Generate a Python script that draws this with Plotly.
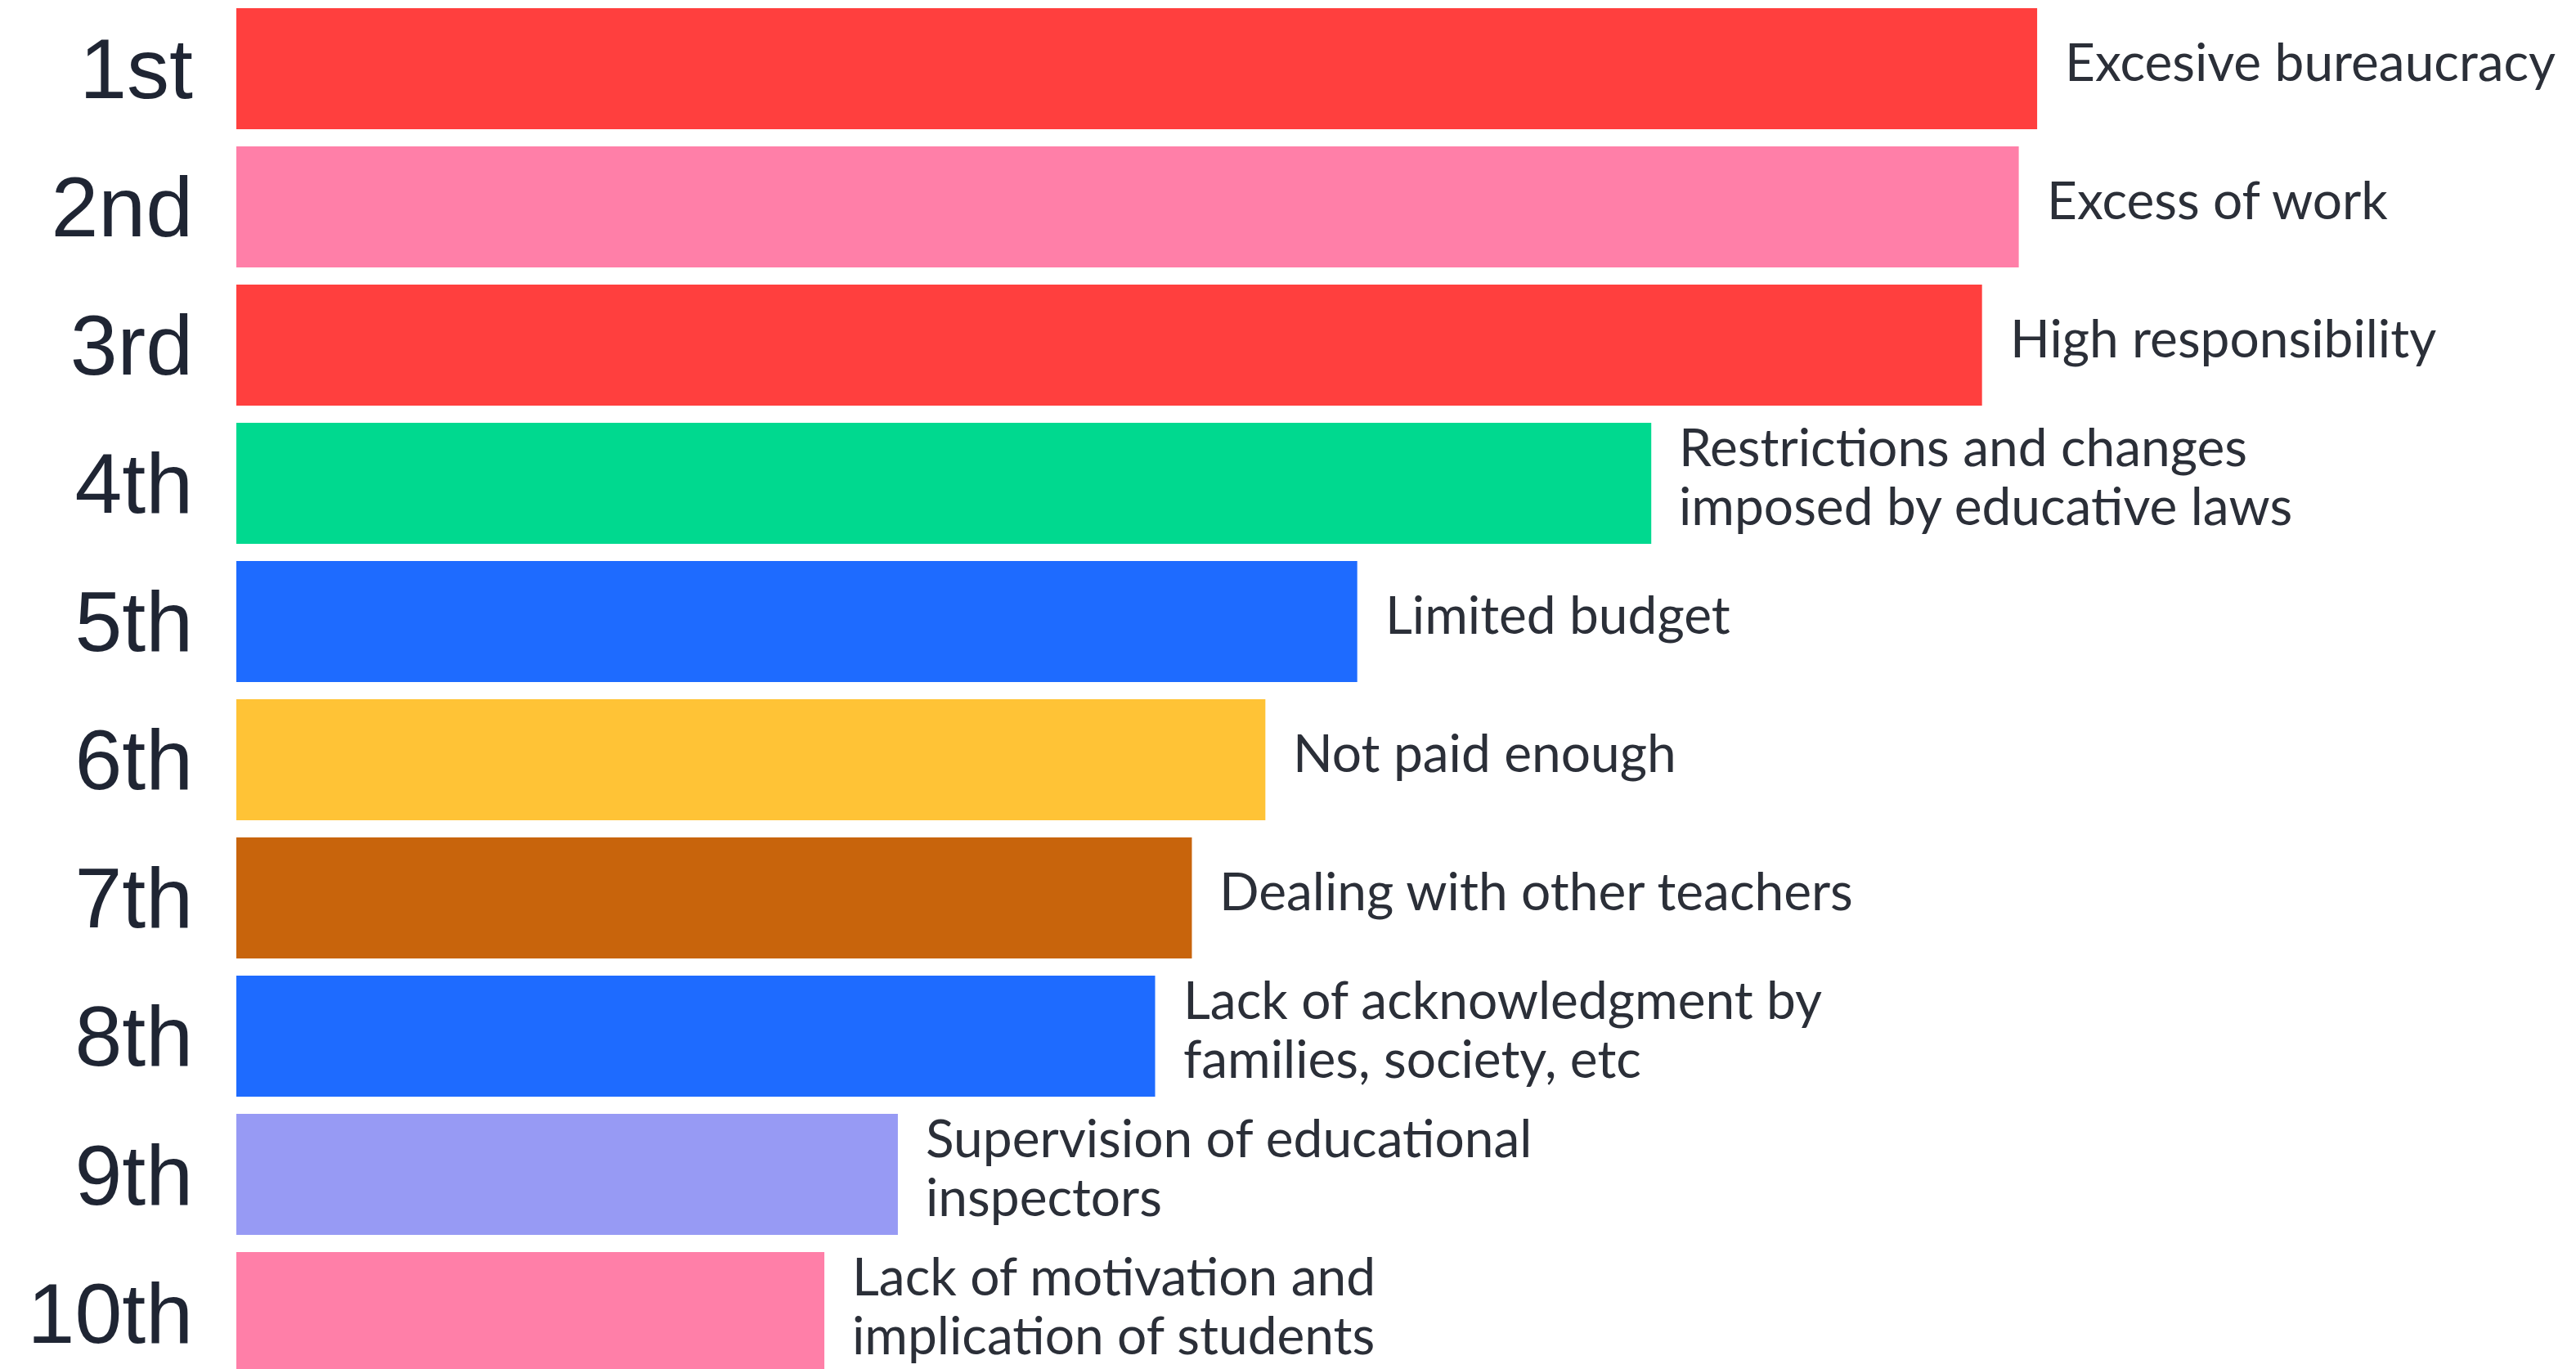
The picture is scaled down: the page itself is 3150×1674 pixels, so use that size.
import plotly.graph_objects as go

ranks = ["1st", "2nd", "3rd", "4th", "5th", "6th", "7th", "8th", "9th", "10th"]
reasons = [
    "Excesive bureaucracy",
    "Excess of work",
    "High responsibility",
    "Restrictions and changes<br>imposed by educative laws",
    "Limited budget",
    "Not paid enough",
    "Dealing with other teachers",
    "Lack of acknowledgment by<br>families, society, etc",
    "Supervision of educational<br>inspectors",
    "Lack of motivation and<br>implication of students",
]
values = [49.0, 48.5, 47.5, 38.5, 30.5, 28.0, 26.0, 25.0, 18.0, 16.0]
colors = ["#FF3F3E", "#FF7FA8", "#FF3F3E", "#00D98F", "#1E6BFF",
          "#FFC336", "#C8640C", "#1E6BFF", "#979AF4", "#FF7FA8"]

pos = list(range(len(ranks)))

fig = go.Figure(go.Bar(
    x=values, y=pos, orientation="h",
    marker=dict(color=colors, line=dict(width=0)),
    width=0.876,
    hoverinfo="skip",
))

LINE_H = 72
for v, p, t in zip(values, pos, reasons):
    lines = t.split("<br>")
    n = len(lines)
    for i, ln in enumerate(lines):
        fig.add_annotation(
            x=v, y=p, text=ln, showarrow=False,
            xanchor="left", yanchor="middle", align="left",
            xshift=32, yshift=10 + ((n - 1) / 2 - i) * LINE_H,
            font=dict(family="Lato, Open Sans, sans-serif", size=64, color="#2B2F38"),
        )

fig.update_layout(
    width=3150, height=1674,
    margin=dict(l=281, r=0, t=0, b=0),
    paper_bgcolor="white", plot_bgcolor="white",
    showlegend=False,
    xaxis=dict(range=[0, 63.84], visible=False, fixedrange=True),
    yaxis=dict(
        range=[9.455, -0.45],
        tickvals=pos, ticktext=ranks,
        showgrid=False, zeroline=False, showline=False,
        ticks="", ticklabelstandoff=52,
        tickfont=dict(family="Liberation Sans, Arial, sans-serif", size=104, color="#1F2533"),
    ),
)

fig.write_html("out.html")
